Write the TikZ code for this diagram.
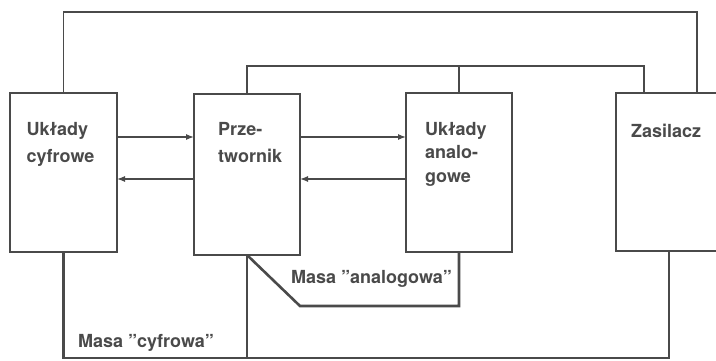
\documentclass[tikz,border=0pt]{standalone}
\usepackage{fontspec}
\setmainfont{TeX Gyre Heros}
\usetikzlibrary{arrows.meta}
\definecolor{ink}{HTML}{4A4A4A}
\begin{document}
\begin{tikzpicture}[x=1pt,y=-1pt,
  blok/.style={draw=ink,line width=2.8pt,rectangle,inner sep=0pt,outer sep=0pt},
  txt/.style={text=ink,anchor=north west,inner sep=0pt,align=left,font=\bfseries\fontsize{18}{27}\selectfont},
  wire/.style={draw=ink,line width=1.9pt},
  gnd/.style={draw=ink,line width=2.6pt,line join=miter},
  sig/.style={draw=ink,line width=1.3pt,-{Latex[length=8pt,width=6pt]}}]
\useasboundingbox (0,0) rectangle (716,361);
% boxes
\node[blok,minimum width=107pt,minimum height=159pt] (cyf) at (63.5,172.5) {};
\node[blok,minimum width=106pt,minimum height=161pt] (prz) at (247,174.5) {};
\node[blok,minimum width=106pt,minimum height=159pt] (ana) at (459,172.5) {};
\node[blok,minimum width=120pt,minimum height=158pt] (zas) at (676,172) {};
% texts
\node[txt] (t1) at (26.5,122) {Układy\\cyfrowe};
\node[txt] (t2) at (218,122) {Prze-\\twornik};
\node[txt,font=\bfseries\fontsize{18}{23.5}\selectfont] (t3) at (425,122) {Układy\\analo-\\gowe};
\node[txt] (t4) at (631,123.5) {Zasilacz};
\node[txt] (t5) at (78,334) {Masa ”cyfrowa”};
\node[txt] (t6) at (291,270) {Masa ”analogowa”};
% helper coordinates
\coordinate (top1) at (0,12);
\coordinate (top2) at (0,66);
\coordinate (za1) at (697,0);
\coordinate (za2) at (644,0);
\coordinate (za3) at (669,0);
\coordinate (ya) at (0,137);
\coordinate (yb) at (0,179);
\coordinate (gb) at (0,358);
\coordinate (d1) at (300,306);
% supply wires
\draw[wire] (cyf.north) -- (cyf.north |- top1) -- (za1 |- top1) -- (za1 |- zas.north);
\draw[wire] (prz.north) -- (prz.north |- top2) -- (za2 |- top2) -- (za2 |- zas.north);
\draw[wire] (ana.north) -- (ana.north |- top2);
% signal arrows
\draw[sig] (cyf.east |- ya) -- (prz.west |- ya);
\draw[sig] (prz.west |- yb) -- (cyf.east |- yb);
\draw[sig] (prz.east |- ya) -- (ana.west |- ya);
\draw[sig] (ana.west |- yb) -- (prz.east |- yb);
% grounds
\draw[gnd] (cyf.south) -- (cyf.south |- gb) -- (za3 |- gb) -- (za3 |- zas.south);
\draw[gnd] (prz.south) -- (prz.south |- gb);
\draw[gnd] (prz.south) -- (d1) -- (ana.south |- d1) -- (ana.south);
\end{tikzpicture}
\end{document}
